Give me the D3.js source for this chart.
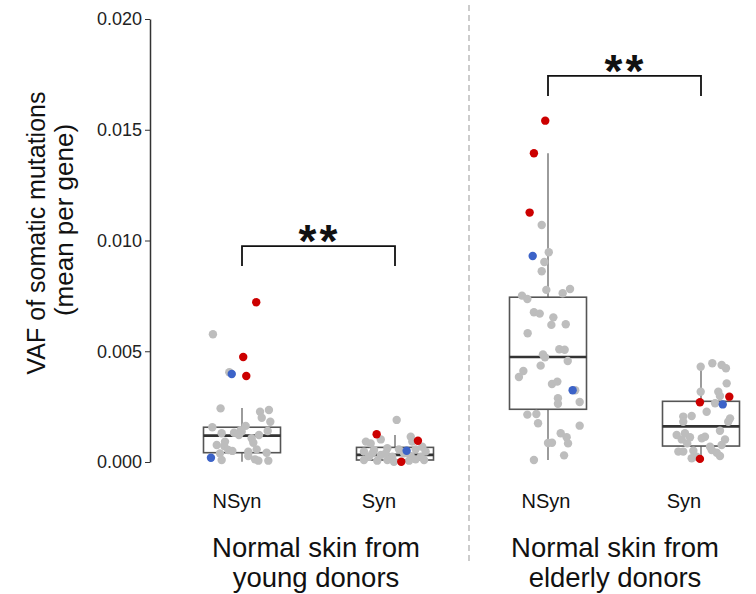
<!DOCTYPE html>
<html lang="en">
<head>
<meta charset="UTF-8">
<script src="https://cdn.jsdelivr.net/npm/d3@7"></script>
<title>VAF boxplots</title>
<style>
  body { margin: 0; background: #fff; }
  text { font-family: "Liberation Sans", Arial, sans-serif; }
</style>
</head>
<body>
<script>
// categories (x) and their group titles
var categories = ["youngNSyn", "youngSyn", "elderNSyn", "elderSyn"];
var catLabels = ["NSyn", "Syn", "NSyn", "Syn"];
var groupTitles = [["Normal skin from", "young donors"], ["Normal skin from", "elderly donors"]];
var yTicks = [0, 0.005, 0.010, 0.015, 0.020];

// box stats: [low whisker, q1, median, q3, high whisker]
var boxStats = [
  [0.00001, 0.00042, 0.00119, 0.00157, 0.00244],
  [0.00001, 0.00009, 0.00032, 0.00066, 0.00122],
  [0.00009, 0.00238, 0.00474, 0.00744, 0.01394],
  [0.00017, 0.00072, 0.00161, 0.00274, 0.00433]
];

// points: [value, jitter (category steps), kind] ; g grey, r red, b blue
var youngNSyn = [
  [0.00577,-0.19,"g"],[0.00405,-0.083,"g"],[0.00242,-0.14,"g"],[0.00227,0.118,"g"],[0.00235,0.176,"g"],
  [0.00200,0.129,"g"],[0.00182,0.185,"g"],[0.00157,-0.194,"g"],[0.00163,0.024,"g"],[0.00144,-0.008,"g"],
  [0.00132,-0.052,"g"],[0.00130,-0.133,"g"],[0.00140,0.168,"g"],[0.00122,0.111,"g"],[0.00107,0.063,"g"],
  [0.00122,-0.02,"g"],[0.00092,-0.111,"g"],[0.00072,-0.116,"g"],[0.00077,-0.165,"g"],[0.00087,0.074,"g"],
  [0.00050,-0.063,"g"],[0.00046,0.041,"g"],[0.00057,0.096,"g"],[0.00042,0.161,"g"],[0.00039,-0.144,"g"],
  [0.00009,-0.133,"g"],[0.00027,0.041,"g"],[0.00012,0.085,"g"],[0.00006,0.107,"g"],[0.00006,0.172,"g"],
  [0.00054,-0.09,"g"],[0.00137,-0.002,"g"],
  [0.00721,0.093,"r"],[0.00474,0.008,"r"],[0.00388,0.028,"r"],
  [0.00397,-0.067,"b"],[0.00019,-0.203,"b"]
];
var youngSyn = [
  [0.00190,0.011,"g"],[0.00092,-0.19,"g"],[0.00084,-0.159,"g"],[0.00102,-0.093,"g"],[0.00114,0.103,"g"],
  [0.00092,0.113,"g"],[0.00069,0.178,"g"],[0.00047,-0.203,"g"],[0.00054,-0.137,"g"],[0.00062,-0.05,"g"],
  [0.00057,0.026,"g"],[0.00057,0.135,"g"],[0.00047,0.2,"g"],[0.00024,-0.17,"g"],[0.00032,-0.093,"g"],
  [0.00024,-0.018,"g"],[0.00027,0.103,"g"],[0.00024,0.168,"g"],[0.00009,-0.203,"g"],[0.00006,-0.116,"g"],
  [0.00009,-0.05,"g"],[0.00001,-0.007,"g"],[0.00006,0.092,"g"],[0.00012,0.135,"g"],[0.00009,0.19,"g"],
  [0.00039,-0.148,"g"],[0.00039,0.059,"g"],[0.00039,-0.061,"g"],
  [0.00051,0.076,"b"],
  [0.00125,-0.12,"r"],[0.00096,0.15,"r"],[0.00001,0.041,"r"]
];
var elderNSyn = [
  [0.01070,-0.041,"g"],[0.00947,0.005,"g"],[0.00903,-0.024,"g"],[0.00861,-0.041,"g"],[0.00777,-0.011,"g"],
  [0.00762,0.096,"g"],[0.00781,0.144,"g"],[0.00751,-0.17,"g"],[0.00736,-0.135,"g"],[0.00676,-0.092,"g"],
  [0.00670,-0.054,"g"],[0.00653,0.035,"g"],[0.00619,0.022,"g"],[0.00622,0.116,"g"],[0.00581,-0.133,"g"],
  [0.00509,0.074,"g"],[0.00507,0.109,"g"],[0.00486,-0.033,"g"],[0.00473,-0.02,"g"],[0.00456,0.129,"g"],
  [0.00435,-0.048,"g"],[0.00411,-0.161,"g"],[0.00384,-0.19,"g"],[0.00352,0.026,"g"],[0.00363,0.061,"g"],
  [0.00324,0.178,"g"],[0.00288,0.065,"g"],[0.00263,0.065,"g"],[0.00271,0.207,"g"],[0.00214,-0.135,"g"],
  [0.00217,-0.076,"g"],[0.00175,-0.065,"g"],[0.00164,0.207,"g"],[0.00130,0.083,"g"],[0.00112,0.122,"g"],
  [0.00084,0.131,"g"],[0.00086,0,"g"],[0.00087,0.026,"g"],[0.00030,0.105,"g"],[0.00009,-0.092,"g"],
  [0.00930,-0.1,"b"],[0.00324,0.161,"b"],
  [0.01541,-0.018,"r"],[0.01394,-0.092,"r"],[0.01126,-0.12,"r"]
];
var elderSyn = [
  [0.00430,-0.002,"g"],[0.00446,0.074,"g"],[0.00438,0.135,"g"],[0.00423,0.163,"g"],[0.00355,0.168,"g"],
  [0.00317,-0.002,"g"],[0.00317,0.113,"g"],[0.00298,0.124,"g"],[0.00265,0.092,"g"],[0.00227,0.037,"g"],
  [0.00197,0.19,"g"],[0.00182,0.178,"g"],[0.00205,-0.116,"g"],[0.00208,-0.061,"g"],[0.00182,-0.116,"g"],
  [0.00141,0.124,"g"],[0.00122,-0.159,"g"],[0.00130,-0.105,"g"],[0.00102,-0.126,"g"],[0.00112,-0.072,"g"],
  [0.00107,0.005,"g"],[0.00102,0.157,"g"],[0.00084,-0.09,"g"],[0.00069,0.059,"g"],[0.00047,-0.148,"g"],
  [0.00047,-0.116,"g"],[0.00051,-0.05,"g"],[0.00054,0.07,"g"],[0.00042,0.103,"g"],[0.00027,0.124,"g"],
  [0.00024,-0.028,"g"],[0.00017,-0.061,"g"],[0.00077,0.135,"g"],[0.00114,0.026,"g"],
  [0.00295,0.185,"r"],[0.00270,-0.007,"r"],[0.00014,-0.007,"r"],
  [0.00260,0.142,"b"]
];
var points = [youngNSyn, youngSyn, elderNSyn, elderSyn];

// significance brackets: [from cat, to cat, bracket height, label]
var sigPairs = [[0, 1, 0.00975, "**"], [2, 3, 0.01743, "**"]];

var width = 756, height = 594;
var colors = {g: "#bdbdbd", r: "#cc0000", b: "#3c63c8"};

var svg = d3.select("body").append("svg")
    .attr("width", width).attr("height", height);

var y = d3.scaleLinear().domain([0, 0.02]).range([462, 19]);
var x = d3.scalePoint().domain(categories).range([242, 701]);
var step = x.step();
var boxW = 77;

// y axis
var yAxis = d3.axisLeft(y).tickValues(yTicks).tickFormat(d3.format(".3f")).tickSize(5).tickSizeOuter(0);
var ag = svg.append("g").attr("transform", "translate(150,0)").call(yAxis);
ag.select(".domain").attr("stroke", "#333").attr("stroke-width", 1.5);
ag.selectAll(".tick line").attr("stroke", "#333");
ag.selectAll(".tick text").attr("font-size", 18).attr("fill", "#222")
    .attr("font-family", "Liberation Sans, Arial, sans-serif");

svg.append("text").attr("transform", "translate(45,233) rotate(-90)")
    .attr("text-anchor", "middle").attr("font-size", 25).attr("fill", "#111")
    .text("VAF of somatic mutations");
svg.append("text").attr("transform", "translate(73,220) rotate(-90)")
    .attr("text-anchor", "middle").attr("font-size", 26).attr("fill", "#111")
    .text("(mean per gene)");

// divider
svg.append("line").attr("x1", 469).attr("x2", 469).attr("y1", 5).attr("y2", 565)
    .attr("stroke", "#999").attr("stroke-dasharray", "6,4");

// boxes
var box = svg.selectAll("g.box").data(boxStats).enter().append("g").attr("class", "box");
box.append("line")
    .attr("x1", function(d, i){ return x(categories[i]); })
    .attr("x2", function(d, i){ return x(categories[i]); })
    .attr("y1", function(d){ return y(d[0]); })
    .attr("y2", function(d){ return y(d[4]); })
    .attr("stroke", "#666").attr("stroke-width", 1.3);
box.append("rect")
    .attr("x", function(d, i){ return x(categories[i]) - boxW / 2; })
    .attr("y", function(d){ return y(d[3]); })
    .attr("width", boxW)
    .attr("height", function(d){ return y(d[1]) - y(d[3]); })
    .attr("fill", "#fff").attr("stroke", "#555").attr("stroke-width", 1.6);
box.append("line")
    .attr("x1", function(d, i){ return x(categories[i]) - boxW / 2; })
    .attr("x2", function(d, i){ return x(categories[i]) + boxW / 2; })
    .attr("y1", function(d){ return y(d[2]); })
    .attr("y2", function(d){ return y(d[2]); })
    .attr("stroke", "#333").attr("stroke-width", 2.6);

// jittered points
points.forEach(function(arr, i){
    svg.append("g").selectAll("circle").data(arr).enter().append("circle")
        .attr("cx", function(d){ return x(categories[i]) + d[1] * step; })
        .attr("cy", function(d){ return y(d[0]); })
        .attr("r", 4.2)
        .attr("fill", function(d){ return colors[d[2]]; });
});

// category labels
var labelShift = [-5, -16, -2, -17];
svg.selectAll("text.cat").data(catLabels).enter().append("text")
    .attr("class", "cat")
    .attr("x", function(d, i){ return x(categories[i]) + labelShift[i]; })
    .attr("y", 508)
    .attr("text-anchor", "middle").attr("font-size", 20).attr("fill", "#111")
    .text(function(d){ return d; });

// group titles
var titleX = [316, 615];
groupTitles.forEach(function(lines, i){
    lines.forEach(function(t, j){
        svg.append("text").attr("x", titleX[i]).attr("y", 557 + j * 30)
            .attr("text-anchor", "middle").attr("font-size", 27.5).attr("fill", "#111")
            .text(t);
    });
});

// significance brackets
sigPairs.forEach(function(s){
    var x1 = x(categories[s[0]]), x2 = x(categories[s[1]]), yy = y(s[2]);
    svg.append("path")
        .attr("d", "M" + x1 + "," + (yy + 20) + "V" + yy + "H" + x2 + "V" + (yy + 20))
        .attr("fill", "none").attr("stroke", "#111").attr("stroke-width", 1.8);
    svg.append("text").attr("x", (x1 + x2) / 2 + 1).attr("y", yy + 11)
        .attr("text-anchor", "middle").attr("font-size", 46)
        .attr("font-weight", "bold").attr("letter-spacing", 3)
        .attr("font-family", "DejaVu Sans, sans-serif")
        .attr("fill", "#111")
        .text(s[3]);
});
</script>
</body>
</html>
